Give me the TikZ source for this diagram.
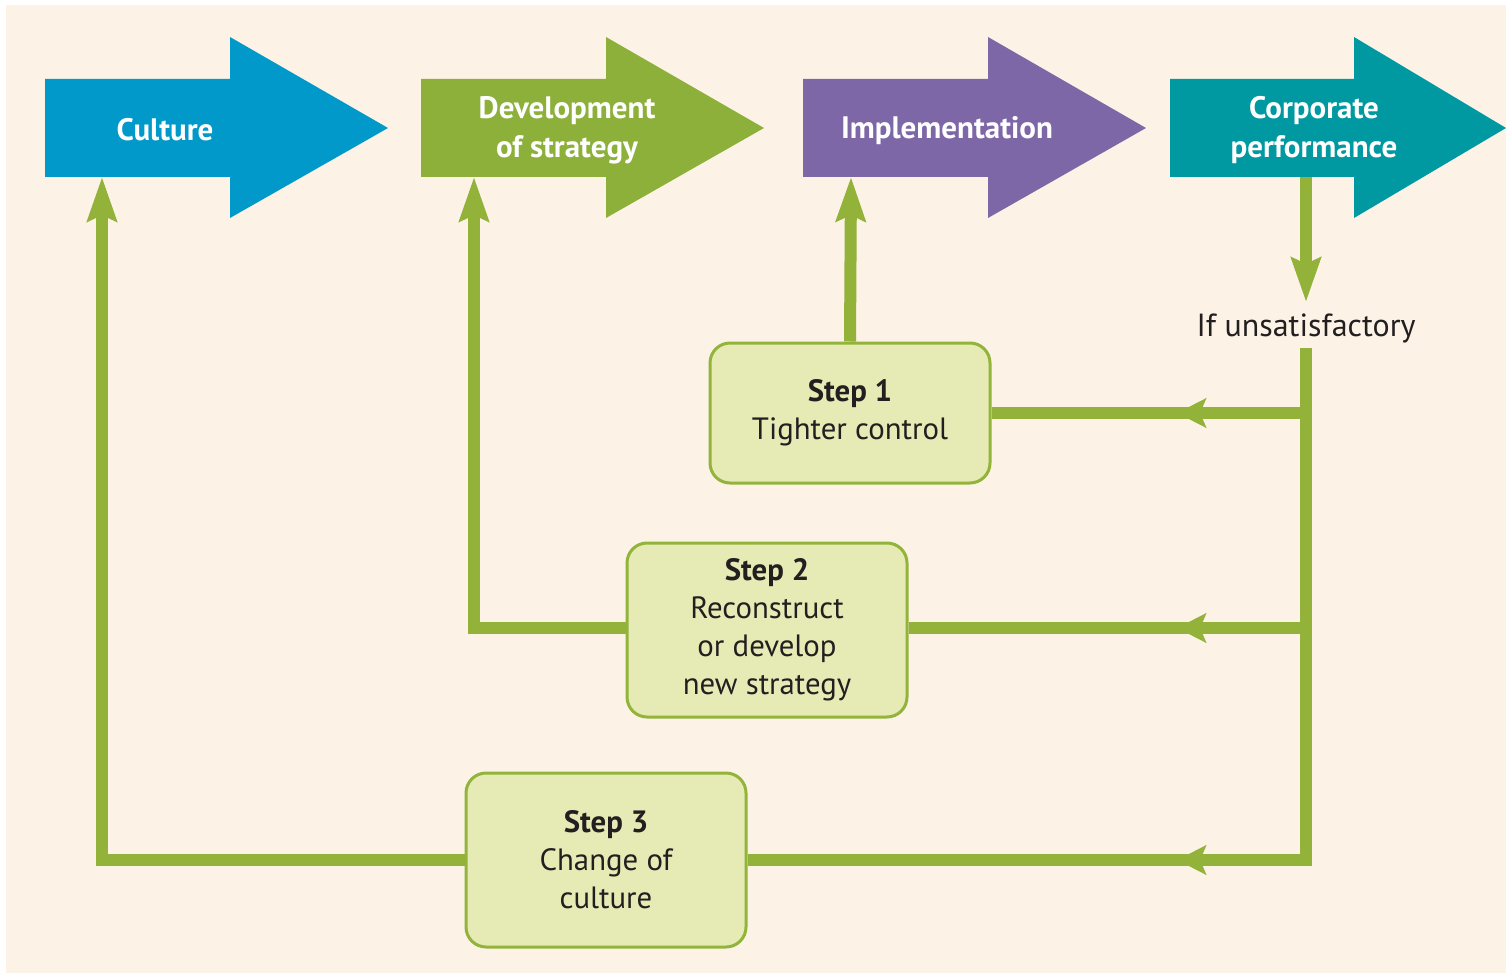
\documentclass[tikz,border=0pt]{standalone}
\usepackage{fontspec}
\setmainfont{PT Sans}
\usetikzlibrary{arrows.meta,decorations.markings}
\definecolor{bgcream}{HTML}{FCF3E6}
\definecolor{cyanA}{HTML}{0099C9}
\definecolor{greenA}{HTML}{8DB03A}
\definecolor{purpleA}{HTML}{7E67A7}
\definecolor{tealA}{HTML}{0099A1}
\definecolor{flowgreen}{HTML}{92B23A}
\definecolor{boxfill}{HTML}{E6EAB4}
\definecolor{boxline}{HTML}{93B43B}
\definecolor{txt}{HTML}{231F20}
\tikzset{
  bigtxt/.style={text=white, font=\fontsize{31}{39}\selectfont\bfseries, align=center, inner sep=0pt},
  stepbox/.style={draw=boxline, fill=boxfill, line width=3pt, rounded corners=20pt,
    minimum width=280pt, align=center, text=txt, font=\fontsize{30.8}{38}\selectfont, inner sep=0pt},
  flow/.style={draw=flowgreen, line width=12pt},
  bigtip/.style={-{Stealth[length=44pt,width=29pt,inset=6pt]}},
  midarrow/.style={postaction={decorate}, decoration={markings,
    mark=at position #1 with {\arrow{Stealth[length=29pt,width=29pt,inset=6pt]}}}}
}
\begin{document}
\begin{tikzpicture}[x=1pt,y=-1pt]
\useasboundingbox (0,0) rectangle (1506,973);
\fill[white] (0,0) rectangle (1506,973);
\fill[bgcream] (6,5) rectangle (1506,973);

% big arrows
\fill[cyanA] (45,79) -- (230,79) -- (230,37) -- (388,128) -- (230,218) -- (230,177) -- (45,177) -- cycle;
\fill[greenA] (421,79) -- (606,79) -- (606,37) -- (764,128) -- (606,218) -- (606,177) -- (421,177) -- cycle;
\fill[purpleA] (803,79) -- (988,79) -- (988,37) -- (1146,128) -- (988,218) -- (988,177) -- (803,177) -- cycle;
\fill[tealA] (1170,79) -- (1354,79) -- (1354,37) -- (1506,128) -- (1354,218) -- (1354,177) -- (1170,177) -- cycle;

\node[bigtxt] (culture) at (165,130) {Culture};
\node[bigtxt] (devstrat) at (567,130) {Development\\of strategy};
\node[bigtxt] (impl) at (947,131) {Implementation};
\node[bigtxt] (corp) at (1314,130) {Corporate\\performance};

% step boxes
\node[stepbox, minimum height=140pt] (s1) at (850,413) {\textbf{Step 1}\\Tighter control};
\node[stepbox, minimum height=174pt] (s2) at (767,630) {\textbf{Step 2}\\Reconstruct\\or develop\\new strategy};
\node[stepbox, minimum height=174pt] (s3) at (606,860) {\textbf{Step 3}\\Change of\\culture};

\node[text=txt, font=\fontsize{32}{38}\selectfont, inner sep=0pt] (ifu) at (1306,328) {If unsatisfactory};

% coordinates
\coordinate (cultureIn) at (102,177);
\coordinate (devIn) at (474,177);
\coordinate (implIn) at (851,177);
\coordinate (corpOut) at (1306,177);
\coordinate (ifuIn) at (1306,302);
\coordinate (trunkTop) at (1306,348);
\coordinate (j1) at (1306,413);
\coordinate (j2) at (1306,628);

% connectors
\draw[flow, bigtip] (corpOut) -- (ifuIn);
\draw[flow, midarrow=641pt] (trunkTop) |- (s3.east);
\draw[flow, midarrow=129pt] (j1) -- (s1.east);
\draw[flow, midarrow=129pt] (j2) -- (s2.east |- j2);
\draw[flow, bigtip] (s1.north) -- (implIn);
\draw[flow, bigtip] (s2.west |- j2) -| (devIn);
\draw[flow, bigtip] (s3.west) -| (cultureIn);
\end{tikzpicture}
\end{document}
